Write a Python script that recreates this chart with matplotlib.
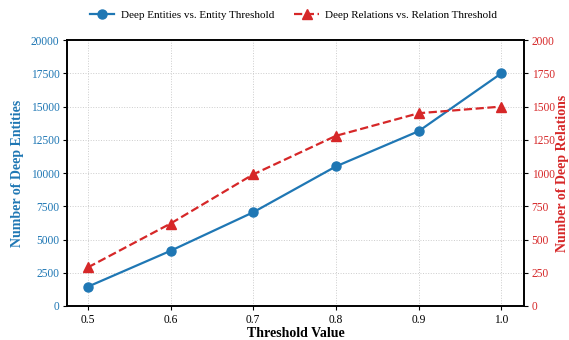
import matplotlib
matplotlib.use("Agg")
import matplotlib.pyplot as plt

thresholds = [0.5, 0.6, 0.7, 0.8, 0.9, 1.0]
deep_entities = [1450, 4150, 7050, 10500, 13150, 17500]
deep_relations = [290, 620, 990, 1280, 1450, 1500]

plt.rcParams['font.family'] = ['Liberation Serif', 'DejaVu Serif']
blue = '#1f77b4'
red = '#d62728'

fig = plt.figure(figsize=(5.69, 3.4), dpi=100)
ax = fig.add_axes([0.118, 0.1, 0.803, 0.782])
ax2 = ax.twinx()

l1, = ax.plot(thresholds, deep_entities, '-o', color=blue, lw=1.6, ms=6.5,
              label='Deep Entities vs. Entity Threshold')
l2, = ax2.plot(thresholds, deep_relations, '--^', color=red, lw=1.6, ms=6.5,
               label='Deep Relations vs. Relation Threshold')

ax.set_ylim(0, 20000)
ax2.set_ylim(0, 2000)
ax.set_xlim(0.475, 1.0275)
ax.set_xticks(thresholds)
ax.set_xticklabels(['0.5', '0.6', '0.7', '0.8', '0.9', '1.0'])
ax.set_yticks(range(0, 20001, 2500))
ax2.set_yticks(range(0, 2001, 250))

ax.grid(True, linestyle=':', color='#cccccc', lw=0.7)
ax.tick_params(axis='x', labelsize=8.3, length=3, pad=2.5)
ax.tick_params(axis='y', colors='black', labelcolor=blue, labelsize=8.3, length=3, pad=2.5)
ax2.tick_params(axis='y', colors='black', labelcolor=red, labelsize=8.3, length=3, pad=2.5)

ax.set_xlabel('Threshold Value', fontsize=10, fontweight='bold', labelpad=1)
ax.set_ylabel('Number of Deep Entities', fontsize=10, fontweight='bold', color=blue, labelpad=5)
ax2.set_ylabel('Number of Deep Relations', fontsize=10, fontweight='bold', color=red, labelpad=1)

for a in (ax, ax2):
    for s in a.spines.values():
        s.set_linewidth(1.2)

fig.legend([l1, l2], [l1.get_label(), l2.get_label()], loc='upper center',
           bbox_to_anchor=(0.516, 1.0), ncol=2, frameon=False, fontsize=8,
           columnspacing=1.8, handletextpad=0.6, handlelength=2.2)

fig.savefig('out.png', dpi=100)
